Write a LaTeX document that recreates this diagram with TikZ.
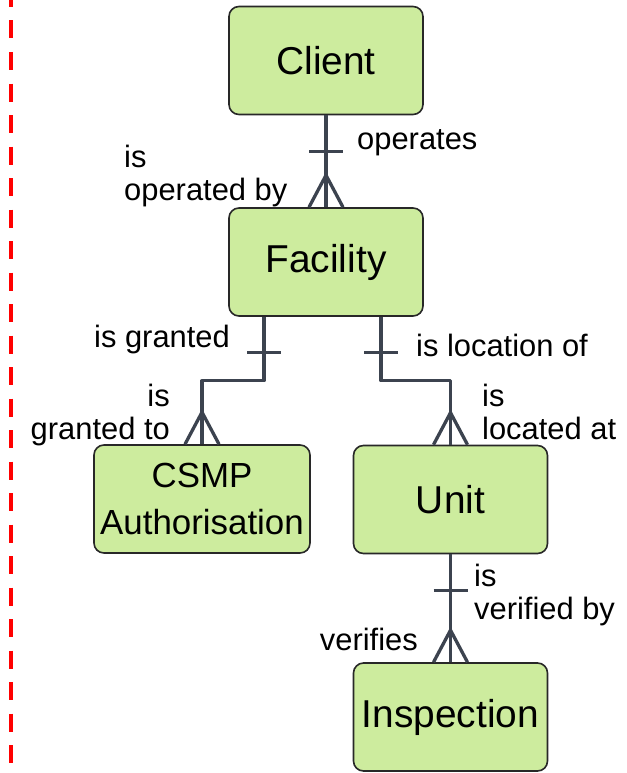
\documentclass[tikz,border=0pt]{standalone}
\usepackage{fontspec}
\setmainfont{Liberation Sans}
\definecolor{entfill}{RGB}{205,236,158}
\definecolor{entline}{RGB}{40,40,40}
\definecolor{relline}{RGB}{60,67,79}
\begin{document}
\begin{tikzpicture}[x=1bp,y=-1bp,line join=round,
	entity/.style={draw=entline,line width=1.6bp,fill=entfill,rounded corners=10bp,minimum width=194bp,minimum height=108bp,inner sep=0pt,align=center,font=\fontsize{39}{44}\selectfont},
	rel/.style={draw=relline,line width=3.3bp},
	lbl/.style={inner sep=0pt,font=\fontsize{31}{34}\selectfont}]
	\useasboundingbox (0,0) rectangle (627,773);
	\def\one(#1){\draw[rel] ([shift={(-17,36)}]#1) -- ++(34,0);}
	\def\many(#1){\draw[rel] ([xshift=-17bp]#1) -- ++(17,-32) -- ++(17,32);}
	
	\draw[red,line width=4.5bp,dash pattern=on 18bp off 13.5bp,dash phase=11bp] (11,0) -- (11,773);
	
	\node[entity] (client) at (326,60.5) {Client};
	\node[entity] (facility) at (326,262) {Facility};
	\node[entity,minimum width=216bp,font=\fontsize{35}{47}\selectfont] (csmp) at (202,499) {CSMP\\Authorisation};
	\node[entity] (unit) at (450.5,499.5) {Unit};
	\node[entity] (insp) at (450.5,717) {Inspection};
	
	\coordinate (fl) at ([xshift=-62bp]facility.south);
	\coordinate (fr) at ([xshift=55bp]facility.south);
	\draw[rel] (client) -- (facility);
	\draw[rel] (fl) -- ++(0,64) -| (csmp.north);
	\draw[rel] (fr) -- ++(0,64) -| (unit.north);
	\draw[rel] (unit) -- (insp);
	\one(client.south) \one(fl) \one(fr) \one(unit.south)
	\many(facility.north) \many(csmp.north) \many(unit.north) \many(insp.north)
	
	\node[lbl,anchor=west] (opl) at (357,143) {operates};
	\node[lbl,anchor=west,align=left] (opbl) at (124,176) {is\\operated by};
	\node[lbl,anchor=west] (grl) at (94,340) {is granted};
	\node[lbl,anchor=west] (locl) at (416,345) {is location of};
	\node[lbl,anchor=east,align=right] (grtl) at (170,415) {is\\granted to};
	\node[lbl,anchor=west,align=left] (latl) at (482,412) {is\\located at};
	\node[lbl,anchor=west,align=left] (vbl) at (474,595) {is\\verified by};
	\node[lbl,anchor=east] (vl) at (418,639) {verifies};
\end{tikzpicture}
\end{document}
